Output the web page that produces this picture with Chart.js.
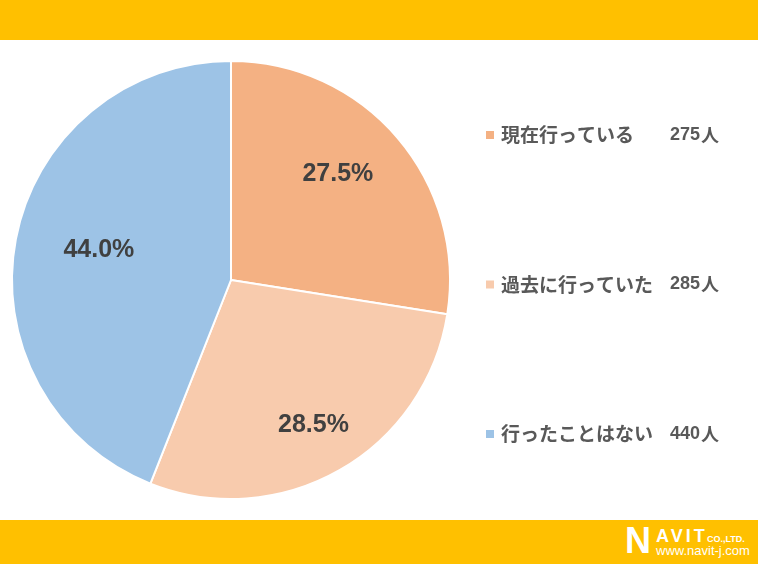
<!DOCTYPE html>
<html>
<head>
<meta charset="utf-8">
<script src="https://cdn.jsdelivr.net/npm/chart.js@4"></script>
<style>
  body { margin: 0; width: 758px; height: 564px; overflow: hidden; background: #fff; font-family: "Noto Sans CJK JP", sans-serif; }
  .band-top { position: absolute; left: 0; top: 0; width: 758px; height: 40px; background: #FFC000; }
  .band-bottom { position: absolute; left: 0; top: 520px; width: 758px; height: 44px; background: #FFC000; }
  .chart-box { position: absolute; left: 0; top: 40px; width: 758px; height: 480px; }
  .logo { position: absolute; left: 0; top: 0; color: #fff; font-family: "Liberation Sans", Arial, sans-serif; font-weight: bold; }
  .logo span { position: absolute; white-space: nowrap; }
  .logo .n { left: 625px; top: 521px; font-size: 36px; line-height: 40px; }
  .logo .avit { left: 656px; top: 526px; font-size: 18px; line-height: 20px; letter-spacing: 3px; }
  .logo .co { left: 707px; top: 533px; font-size: 9px; line-height: 12px; }
  .logo .url { left: 656px; top: 544px; font-size: 13px; line-height: 14px; font-weight: normal; }
</style>
</head>
<body>
<div class="band-top"></div>
<div class="chart-box"><canvas id="chart"></canvas></div>
<div class="band-bottom"></div>
<div class="logo">
  <span class="n">N</span>
  <span class="avit">AVIT</span>
  <span class="co">CO.,LTD.</span>
  <span class="url">www.navit-j.com</span>
</div>
<script>
const categories = ['現在行っている', '過去に行っていた', '行ったことはない'];
const counts = [275, 285, 440];
const percents = [27.5, 28.5, 44.0];
const colors = ['#F4B183', '#F8CBAD', '#9DC3E6'];

// label placement: fraction of radius + small angle nudge (degrees)
const labelRadius = [0.69, 0.76, 0.62];
const labelNudge = [-4.5, 0, 2.5];

const pieLabels = {
  id: 'pieLabels',
  afterDatasetsDraw(chart) {
    const ctx = chart.ctx;
    const arcs = chart.getDatasetMeta(0).data;
    ctx.save();
    ctx.font = 'bold 25px "Liberation Sans", Arial, sans-serif';
    ctx.fillStyle = '#404040';
    ctx.textAlign = 'center';
    ctx.textBaseline = 'middle';
    arcs.forEach((arc, i) => {
      const mid = (arc.startAngle + arc.endAngle) / 2 + labelNudge[i] * Math.PI / 180;
      const r = arc.outerRadius * labelRadius[i];
      ctx.fillText(percents[i].toFixed(1) + '%', arc.x + Math.cos(mid) * r, arc.y + Math.sin(mid) * r + 1);
    });
    ctx.restore();
  }
};

const sideLegend = {
  id: 'sideLegend',
  afterDraw(chart) {
    const ctx = chart.ctx;
    ctx.save();
    ctx.textBaseline = 'middle';
    categories.forEach((name, i) => {
      const y = 95 + i * 149.5;
      ctx.fillStyle = colors[i];
      ctx.fillRect(486, y - 4, 8, 8);
      ctx.fillStyle = '#595959';
      ctx.font = 'bold 19px "Noto Sans CJK JP", sans-serif';
      ctx.textAlign = 'left';
      ctx.fillText(name, 501, y);
      ctx.font = 'bold 18px "Liberation Sans", Arial, sans-serif';
      ctx.fillText(String(counts[i]), 670, y);
      const w = ctx.measureText(String(counts[i])).width;
      ctx.font = 'bold 18px "Noto Sans CJK JP", sans-serif';
      ctx.fillText('人', 670 + w + 1, y);
    });
    ctx.restore();
  }
};

new Chart(document.getElementById('chart'), {
  type: 'pie',
  data: {
    labels: categories,
    datasets: [{
      data: percents,
      backgroundColor: colors,
      borderColor: '#ffffff',
      borderWidth: 2
    }]
  },
  options: {
    responsive: true,
    maintainAspectRatio: false,
    animation: false,
    layout: { padding: { left: 11, right: 307, top: 18, bottom: 18 } },
    plugins: {
      legend: { display: false },
      tooltip: { enabled: false }
    }
  },
  plugins: [pieLabels, sideLegend]
});
</script>
</body>
</html>
